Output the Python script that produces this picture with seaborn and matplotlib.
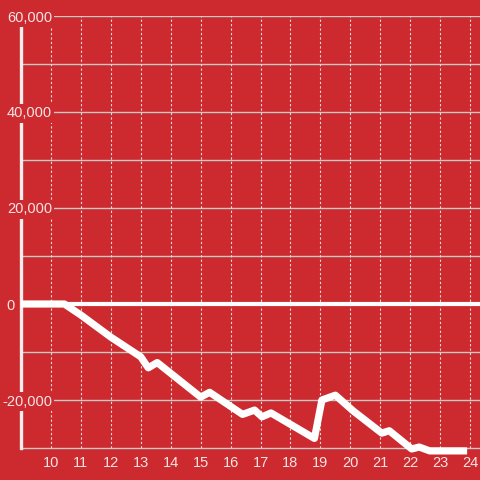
import matplotlib
matplotlib.use("Agg")
import matplotlib.pyplot as plt
import matplotlib.transforms as mtransforms
import numpy as np
import pandas as pd
import seaborn as sns

# ---- data ----
hours = [9.0, 10.45, 11.0, 12.0, 13.0, 13.25, 13.55, 15.0, 15.3, 16.4, 16.8, 17.05,
         17.35, 18.8, 19.05, 19.5, 20.1, 21.05, 21.3, 22.05, 22.3, 22.65, 23.9]
values = [0, 0, -2300, -6900, -11000, -13300, -12200, -19400, -18400, -23000, -22100, -23500,
          -22700, -28000, -20000, -19000, -22300, -26900, -26400, -30200, -29800, -30600, -30600]

x_ticks = list(range(10, 25))
y_ticks = [-20000, 0, 20000, 40000, 60000]
y_tick_labels = ["-20,000", "0", "20,000", "40,000", "60,000"]
y_minor = [-10000, 10000, 30000, 50000]

BG = "#cc2a2f"
TXT = "#f5e4e4"
GRID = "#cfc6c6"

sns.set_theme(style="white")
plt.rcParams["font.family"] = ["Liberation Sans", "DejaVu Sans"]

fig = plt.figure(figsize=(4.8, 4.8), dpi=100, facecolor=BG)
ax = fig.add_axes([21 / 480, 32 / 480, 459 / 480, 432 / 480])
ax.set_facecolor(BG)

df = pd.DataFrame({"hour": hours, "value": values})

ax.set_xlim(9.0, 24.33)
ax.set_ylim(-30000, 60000)

ax.set_xticks(x_ticks)
ax.set_xticklabels([str(t) for t in x_ticks])
ax.set_yticks(y_ticks)
ax.set_yticklabels(y_tick_labels)
ax.set_yticks(y_minor, minor=True)

ax.grid(False)
for yy in y_ticks + y_minor:
    if yy == 0:
        continue
    ax.axhline(yy, color=GRID, lw=1.0, zorder=1)
for xx in x_ticks:
    ax.axvline(xx, color="#e8dada", lw=0.8, ls=(0, (2.0, 2.0)), zorder=1)
ax.axhline(0, color="white", lw=3.0, zorder=2)

sns.lineplot(data=df, x="hour", y="value", ax=ax, color="white", lw=5.2,
             zorder=5, clip_on=False, solid_joinstyle="round", solid_capstyle="butt")

ax.set_xlabel("")
ax.set_ylabel("")

for s in ["top", "right"]:
    ax.spines[s].set_visible(False)
ax.spines["left"].set_color("#f2eeee")
ax.spines["left"].set_linewidth(2.4)
ax.spines["left"].set_zorder(3)
ax.spines["bottom"].set_color(GRID)
ax.spines["bottom"].set_linewidth(1.0)

ax.tick_params(axis="x", length=0, pad=6, labelsize=10.5, colors=TXT)
ax.tick_params(axis="y", which="both", length=0, pad=-22.3, labelsize=10.5, colors=TXT)
ax.yaxis.set_zorder(4)

for lab in ax.get_yticklabels():
    lab.set_fontsize(10.5)
    lab.set_bbox(dict(facecolor=BG, edgecolor="none", pad=1.5))
    if lab.get_text() == "0":
        lab.set_bbox(None)
        lab.set_transform(lab.get_transform() +
                          mtransforms.ScaledTranslation(-37 / 100, 0, fig.dpi_scale_trans))

fig.savefig("out.png", dpi=100, facecolor=BG)
